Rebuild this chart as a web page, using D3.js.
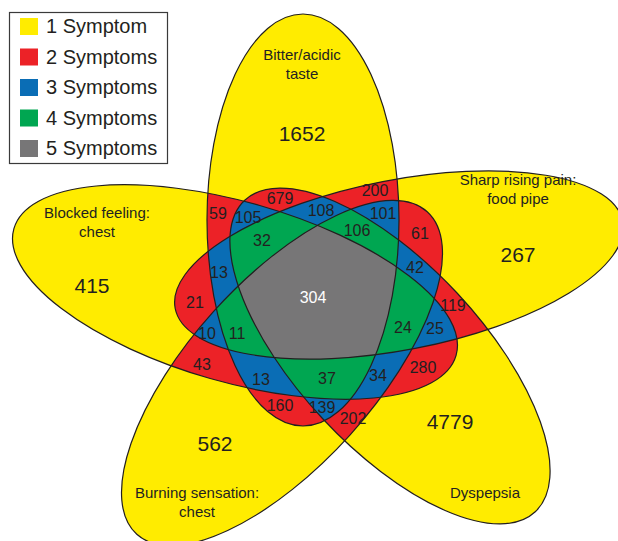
<!DOCTYPE html>
<html>
<head>
<meta charset="utf-8">
<script src="https://cdn.jsdelivr.net/npm/d3@7"></script>
<style>
  body { margin: 0; background: #fff; }
  text { font-family: "Liberation Sans", Arial, Helvetica, sans-serif; fill: #231f20; }
</style>
</head>
<body>
<svg id="chart" width="618" height="541"></svg>
<script>
// sets, in drawing order
var setNames = ['Bitter/acidic taste', 'Sharp rising pain: food pipe', 'Dyspepsia',
  'Burning sensation: chest', 'Blocked feeling: chest'];

// legend
var legendLabels = ['1 Symptom', '2 Symptoms', '3 Symptoms', '4 Symptoms', '5 Symptoms'];
var symptomCounts = [1, 2, 3, 4, 5];
var symptomColors = ['#ffec00', '#ec2227', '#0a6db5', '#00a651', '#777677'];

// number of patients in each region
var regionCounts = [1652, 267, 4779, 562, 415,
  59, 679, 200, 61, 119, 280, 202, 160, 43, 21,
  105, 108, 101, 42, 25, 34, 139, 13, 10, 13,
  32, 106, 24, 37, 11,
  304];

// ---- layout ----
var ellipses = [
  { cx: 303, cy: 220, rx: 206, ry: 96, rot: -90 },
  { cx: 399, cy: 265, rx: 228, ry: 85, rot: -11 },
  { cx: 390, cy: 356, rx: 213, ry: 92, rot: 47 },
  { cx: 282, cy: 373, rx: 217, ry: 92, rot: -48 },
  { cx: 235, cy: 292, rx: 230, ry: 90, rot: 16 }
];

var regionPos = [[302, 133], [518, 254], [450, 421], [215, 443], [92, 285],
  [218, 213], [280, 198], [375, 190], [420, 233], [453, 305], [423, 367], [353, 418], [280, 405], [202, 364], [195, 302],
  [248, 217], [321, 210], [383, 213], [415, 267], [435, 328], [378, 375], [322, 407], [219, 272], [207, 333], [261, 379],
  [262, 240], [357, 230], [403, 327], [327, 378], [237, 333],
  [313, 297]];

var setLabelPos = [[302, 55], [518, 180], [485, 493], [197, 493], [97, 213]];
var setLabelLines = [['Bitter/acidic', 'taste'], ['Sharp rising pain:', 'food pipe'], ['Dyspepsia'],
  ['Burning sensation:', 'chest'], ['Blocked feeling:', 'chest']];

var svg = d3.select('#chart');
var color = d3.scaleOrdinal().domain(symptomCounts).range(symptomColors);

function shape(sel, e) {
  return sel.append('ellipse')
    .attr('transform', 'translate(' + e.cx + ',' + e.cy + ') rotate(' + e.rot + ')')
    .attr('rx', e.rx).attr('ry', e.ry);
}

var defs = svg.append('defs');
ellipses.forEach(function (e, i) {
  shape(defs.append('clipPath').attr('id', 'clip' + i), e);
});

function combinations(n, k) {
  var out = [];
  (function rec(start, acc) {
    if (acc.length === k) { out.push(acc.slice()); return; }
    for (var i = start; i < n; i++) { acc.push(i); rec(i + 1, acc); acc.pop(); }
  })(0, []);
  return out;
}

// fill: single sets, then every intersection painted over by its depth
var fills = svg.append('g');
ellipses.forEach(function (e) {
  shape(fills, e).attr('fill', color(1));
});
d3.range(2, 6).forEach(function (k) {
  combinations(ellipses.length, k).forEach(function (c) {
    var g = fills;
    for (var j = 0; j < c.length - 1; j++) {
      g = g.append('g').attr('clip-path', 'url(#clip' + c[j] + ')');
    }
    shape(g, ellipses[c[c.length - 1]]).attr('fill', color(k));
  });
});

// outlines
var outlines = svg.append('g');
ellipses.forEach(function (e) {
  shape(outlines, e).attr('fill', 'none').attr('stroke', '#231f20').attr('stroke-width', 1.2);
});

function depth(p) {
  return ellipses.filter(function (e) {
    var t = -e.rot * Math.PI / 180;
    var dx = p[0] - e.cx, dy = p[1] - e.cy;
    var u = dx * Math.cos(t) - dy * Math.sin(t);
    var v = dx * Math.sin(t) + dy * Math.cos(t);
    return (u * u) / (e.rx * e.rx) + (v * v) / (e.ry * e.ry) <= 1;
  }).length;
}

// region numbers
svg.append('g').selectAll('text')
  .data(regionCounts)
  .join('text')
  .attr('x', function (d, i) { return regionPos[i][0]; })
  .attr('y', function (d, i) { return regionPos[i][1]; })
  .attr('dy', '0.36em')
  .attr('text-anchor', 'middle')
  .attr('font-size', function (d, i) { return i < 5 ? 21 : 16; })
  .style('fill', function (d, i) { return depth(regionPos[i]) === 5 ? '#fff' : '#231f20'; })
  .text(function (d) { return d; });

// set names
var names = svg.append('g').selectAll('text')
  .data(setNames)
  .join('text')
  .attr('text-anchor', 'middle')
  .attr('font-size', 15)
  .attr('x', function (d, i) { return setLabelPos[i][0]; })
  .attr('y', function (d, i) { return setLabelPos[i][1]; });
names.selectAll('tspan')
  .data(function (d, i) { return setLabelLines[i].map(function (l) { return { l: l, x: setLabelPos[i][0] }; }); })
  .join('tspan')
  .attr('x', function (d) { return d.x; })
  .attr('dy', function (d, j) { return j === 0 ? '0.36em' : 19; })
  .text(function (d) { return d.l; });

// legend
var legend = svg.append('g');
legend.append('rect')
  .attr('x', 9.5).attr('y', 12.5).attr('width', 158).attr('height', 151)
  .attr('fill', '#fff').attr('stroke', '#3a3a3a').attr('stroke-width', 1.2);
var rows = legend.selectAll('g.row')
  .data(legendLabels)
  .join('g')
  .attr('class', 'row')
  .attr('transform', function (d, i) { return 'translate(20,' + (18 + i * 30.5) + ')'; });
rows.append('rect')
  .attr('width', 18).attr('height', 17)
  .attr('fill', function (d, i) { return color(symptomCounts[i]); });
rows.append('text')
  .attr('x', 26).attr('y', 15)
  .attr('font-size', 20)
  .text(function (d) { return d; });
</script>
</body>
</html>
